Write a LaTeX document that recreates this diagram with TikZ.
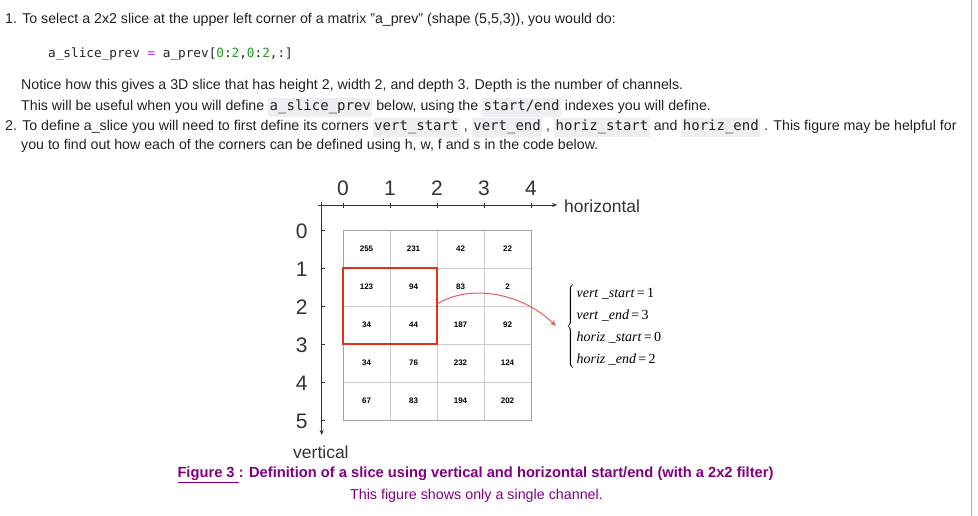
\documentclass[tikz,border=0pt]{standalone}
\usepackage{fontspec}
\setmainfont{Liberation Sans}
\setmonofont{DejaVu Sans Mono}
\newfontfamily\tnr{Liberation Serif}
\usetikzlibrary{arrows.meta}

\definecolor{textblack}{HTML}{222222}
\definecolor{codebg}{HTML}{EEEFF1}
\definecolor{codegreen}{HTML}{229922}
\definecolor{codepurple}{HTML}{AA22FF}
\definecolor{gridgray}{HTML}{CCCCCC}
\definecolor{slicered}{HTML}{E0301E}
\definecolor{arrowred}{HTML}{EA5B55}
\definecolor{capurple}{HTML}{800080}
\definecolor{axisgray}{HTML}{333333}

\newcommand\ic[1]{{\setlength\fboxsep{1.5pt}\colorbox{codebg}{\fontsize{14}{16}\ttfamily\strut#1}}}

\tikzset{
  txt/.style={anchor=base west, inner sep=0pt, text=textblack, font=\fontsize{14.2}{16}\selectfont},
  snippet/.style={anchor=base west, inner sep=0pt, text=textblack, font=\fontsize{12.7}{15}\ttfamily},
  cell/.style={draw=gridgray, minimum width=47pt, minimum height=38pt, inner sep=0pt, font=\bfseries\fontsize{8}{9}\selectfont},
  slicebox/.style={minimum width=94pt, minimum height=76pt, inner sep=0pt},
  axis/.style={axisgray, line width=0.7pt},
  axlabel/.style={anchor=base, inner sep=0pt, text=axisgray, font=\fontsize{21}{24}\selectfont},
  axname/.style={anchor=base west, inner sep=0pt, text=axisgray, font=\fontsize{17.5}{20}\selectfont},
  caption/.style={anchor=base, inner sep=0pt, text=capurple, font=\fontsize{14.3}{16}\selectfont},
}

\begin{document}
\begin{tikzpicture}[x=1pt,y=-1pt]
  \useasboundingbox (0,0) rectangle (978,516);
  \draw[gray!60, line width=1pt] (971.5,0) -- (971.5,516);

  \node[txt] (l1) at (5,23.5) {1. To select a 2x2 slice at the upper left corner of a matrix "a\_prev" (shape (5,5,3)), you would do:};
  \node[snippet] (code) at (48,57.5) {a\_slice\_prev {\color{codepurple}=} a\_prev[{\color{codegreen}0}:{\color{codegreen}2},{\color{codegreen}0}:{\color{codegreen}2},:]};
  \node[txt] (l2) at (21,89.5) {Notice how this gives a 3D slice that has height 2, width 2, and depth 3. Depth is the number of channels.};
  \node[txt] (l3) at (21,110.5) {This will be useful when you will define \ic{a\_slice\_prev} below, using the \ic{start/end} indexes you will define.};
  \node[txt] (l4) at (5,130.5) {2. To define a\_slice you will need to first define its corners \ic{vert\_start} , \ic{vert\_end} , \ic{horiz\_start} and \ic{horiz\_end} . This figure may be helpful for};
  \node[txt] (l5) at (21,149.5) {you to find out how each of the corners can be defined using h, w, f and s in the code below.};

  \foreach \r/\vals in {0/{255,231,42,22},1/{123,94,83,2},2/{34,44,187,92},3/{34,76,232,124},4/{67,83,194,202}}
    \foreach \v [count=\c from 0] in \vals
      \node[cell] (c-\r-\c) at (366.5+47*\c,249+38*\r) {\v};
  \draw[gridgray!80!black] (c-0-0.north west) rectangle (c-4-3.south east);
  \node[slicebox] (slice) at (390,306) {};
  \draw[color=slicered, line width=2pt] (slice.north west) rectangle (slice.south east);

  \coordinate (hstart) at (318,205);
  \coordinate (hend) at (557,205);
  \coordinate (vstart) at (321.7,201.7);
  \coordinate (vend) at (321.7,435);
  \draw[axis,-{Stealth[length=5pt,width=4pt]}] (hstart) -- (hend);
  \draw[axis,-{Stealth[length=5pt,width=4pt]}] (vstart) -- (vend);
  \foreach \i in {0,...,4} {
    \draw[axis] (343+47*\i,203) -- (343+47*\i,208);
    \node[axlabel] at (343+47*\i,196) {\i};
  }
  \foreach \j in {0,...,5} {
    \draw[axis] (321.7,230+38*\j) -- (325,230+38*\j);
    \node[axlabel] at (301.7,238.3+38*\j) {\j};
  }
  \node[axname] (hname) at (564,213) {horizontal};
  \node[axname] (vname) at (293,458) {vertical};

  \node[anchor=west, inner sep=0pt, font=\tnr\fontsize{14}{21.9}\selectfont] (eqs) at (566,326)
    {$\left\{\begin{tabular}{@{\kern1.5pt}l@{}}
      {\itshape vert\ \_start}\,=\,1\\
      {\itshape vert\ \_end}\,=\,3\\
      {\itshape horiz\ \_start}\,=\,0\\
      {\itshape horiz\ \_end}\,=\,2
    \end{tabular}\right.$};
  \draw[arrowred, line width=1pt, -{Stealth[length=6pt,width=5pt]}] ([yshift=2pt]slice.east) .. controls +(32,-20) and +(-35,-34) .. ([xshift=-10pt]eqs.west);

  \node[caption, font=\bfseries\fontsize{14.7}{16}\selectfont] (cap) at (475.5,477.5) {\underline{Figure 3\ }: Definition of a slice using vertical and horizontal start/end (with a 2x2 filter)};
  \node[caption] (subcap) at (476.5,499) {This figure shows only a single channel.};
\end{tikzpicture}
\end{document}
